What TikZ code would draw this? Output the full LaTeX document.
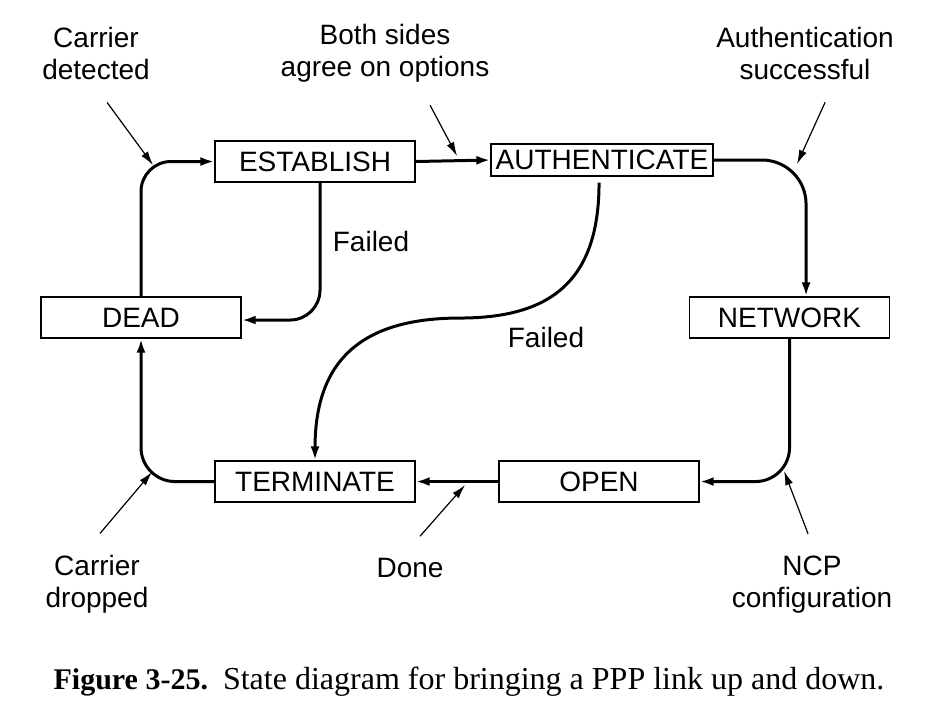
\documentclass[tikz,border=0pt]{standalone}
\usepackage{fontspec}
\setmainfont{Liberation Sans}
\newfontfamily\capfont{Liberation Serif}
\usetikzlibrary{arrows.meta,positioning,calc}

\begin{document}
\begin{tikzpicture}[scale=0.1757]
\tikzstyle{every node}+=[font=\fontsize{14}{16}\selectfont]
\tikzstyle{state}=[draw=black, line width=0.65pt, minimum width=100pt, minimum height=20.5pt, inner sep=1pt]
\tikzstyle{trans}=[line width=1.5pt, -{Latex[length=7pt,width=4.5pt]}]
\tikzstyle{note}=[line width=0.6pt, -{Latex[length=7pt,width=4pt]}]
\useasboundingbox (0,0) rectangle (92.6,-72.4);
% states
\node [state] (dead) at (14.1,-31.75) {DEAD};
\node [state] (establish) at (31.5,-16.15) {ESTABLISH};
\node [state, minimum width=111pt, minimum height=16pt] (auth) at (60.2,-16) {AUTHENTICATE};
\node [state] (network) at (78.95,-31.75) {NETWORK};
\node [state] (open) at (59.9,-48.15) {OPEN};
\node [state] (terminate) at (31.5,-48.15) {TERMINATE};
% transitions
\draw [trans, rounded corners=15pt] (dead.north) |- (establish.west);
\draw [trans] (establish.east) -- (auth.west);
\draw [trans, rounded corners=22pt] (auth.east) -| ($(network.north)+(1.65,0)$);
\draw [trans, rounded corners=17pt] (network.south) |- (open.east);
\draw [trans] (open.west) -- (terminate.east);
\draw [trans, rounded corners=17pt] (terminate.west) -| (dead.south);
\draw [trans, rounded corners=15pt] ($(establish.south)+(0.5,0)$) |- ($(dead.east)+(0,-0.25)$);
\coordinate (failmid) at (46.0,-31.8);
\draw [trans] ($(auth.south)+(-0.3,-0.6)$) to[out=-90, in=0, looseness=1.25] (failmid) to[out=180, in=90, looseness=1.25] (terminate.north);
% events
\node [align=center] (detected) at (9.6,-5.3) {Carrier\\detected};
\node [align=center] (agree) at (38.5,-5.3) {Both sides\\agree on options};
\node [align=center] (success) at (80.5,-5.3) {Authentication\\successful};
\node (failA) at (37.1,-24.1) {Failed};
\node (failB) at (54.6,-33.7) {Failed};
\node [align=center] (dropped) at (9.7,-58.45) {Carrier\\dropped};
\node (done) at (41.0,-56.8) {Done};
\node [align=center] (ncp) at (81.2,-58.45) {NCP\\configuration};
\coordinate (detected-to) at (15.3,-16.5);
\coordinate (agree-to) at (45.7,-15.6);
\coordinate (success-to) at (79.7,-16.4);
\coordinate (dropped-to) at (15.2,-47.2);
\coordinate (done-to) at (46.5,-48.5);
\coordinate (ncp-to) at (78.4,-47.1);
\draw [note] ($(detected.south)+(1.1,-1.6)$) -- (detected-to);
\draw [note] ($(agree.south)+(4.5,-1.6)$) -- (agree-to);
\draw [note] ($(success.south)+(2,-1.6)$) -- (success-to);
\draw [note] ($(dropped.north)+(0.3,1.5)$) -- (dropped-to);
\draw [note] ($(done.north)+(1,1.5)$) -- (done-to);
\draw [note] ($(ncp.north)+(-0.4,1.5)$) -- (ncp-to);
% caption
\node [font=\capfont\fontsize{16}{18}\selectfont] (caption) at (46.9,-68.2) {\fontsize{15}{18}\selectfont\textbf{Figure 3-25.}\enspace\fontsize{16}{18}\selectfont State diagram for bringing a PPP link up and down.};
\end{tikzpicture}
\end{document}
